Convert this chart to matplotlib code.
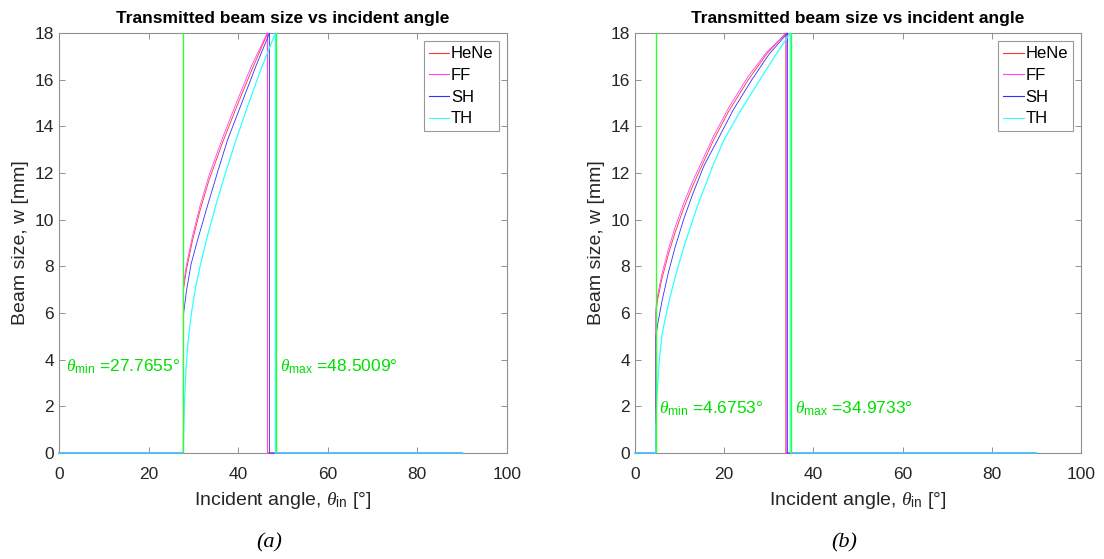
import numpy as np
import matplotlib
matplotlib.use('Agg')
import matplotlib.pyplot as plt

plt.rcParams['font.family'] = ['Liberation Sans', 'DejaVu Sans']
plt.rcParams['mathtext.fontset'] = 'custom'
plt.rcParams['mathtext.rm'] = 'Liberation Sans'
plt.rcParams['mathtext.it'] = 'Liberation Serif:italic'

# beam sizes [mm], incident angle in degrees
# (a)
a_theta = (27.7655, 48.5009)
a_hene_ang = [27.77, 28.5, 29.8, 31.5, 33.5, 36.7, 40.0, 43.0, 46.6]
a_hene_w = [7.0, 7.9, 9.1, 10.4, 11.7, 13.4, 15.0, 16.4, 18.0]
a_ff_ang = [27.77, 28.5, 29.8, 31.5, 33.5, 36.7, 40.0, 43.0, 46.5]
a_ff_w = [7.2, 8.1, 9.3, 10.6, 11.9, 13.6, 15.2, 16.6, 18.0]
a_sh_ang = [27.77, 28.5, 29.5, 30.9, 33.0, 35.5, 37.6, 41.0, 44.0, 47.0]
a_sh_w = [5.9, 7.0, 8.1, 9.1, 10.5, 12.1, 13.4, 15.1, 16.6, 18.0]
a_th_ang = [27.77, 27.85, 28.0, 28.35, 28.8, 29.5, 30.5, 31.5, 33.0, 35.0, 37.0, 39.5, 42.0, 45.0, 48.3]
a_th_w = [0.2, 1.0, 2.0, 3.6, 4.7, 5.9, 7.1, 8.0, 9.2, 10.6, 11.9, 13.4, 14.8, 16.4, 18.0]

# (b)
b_theta = (4.6753, 34.9733)
b_hene_ang = [4.675, 5.1, 6.0, 7.5, 9.0, 11.0, 13.0, 15.0, 17.6, 21.0, 25.4, 29.5, 33.8]
b_hene_w = [6.0, 6.6, 7.45, 8.53, 9.46, 10.54, 11.48, 12.32, 13.41, 14.65, 16.0, 17.1, 18.0]
b_ff_ang = [4.675, 5.1, 6.0, 7.5, 9.0, 11.0, 13.0, 15.0, 17.6, 21.0, 25.4, 29.5, 34.0]
b_ff_w = [6.2, 6.8, 7.65, 8.75, 9.68, 10.75, 11.68, 12.5, 13.58, 14.8, 16.15, 17.18, 18.0]
b_sh_ang = [4.675, 5.2, 6.1, 7.5, 9.0, 11.0, 13.0, 15.5, 18.5, 22.0, 26.2, 30.0, 34.2]
b_sh_w = [5.0, 5.65, 6.56, 7.75, 8.83, 10.07, 11.13, 12.33, 13.41, 14.7, 16.0, 17.08, 18.0]
b_th_ang = [4.675, 4.9, 5.45, 6.0, 6.7, 7.7, 9.0, 11.0, 13.9, 17.3, 19.8, 23.5, 28.0, 31.5, 34.8]
b_th_w = [1.1, 2.4, 4.0, 5.0, 5.7, 6.56, 7.54, 8.86, 10.54, 12.24, 13.37, 14.62, 16.0, 17.05, 18.0]

ang_end = 90
labels = ['HeNe', 'FF', 'SH', 'TH']
colors = ['#ff3030', '#ff40ff', '#3030ff', '#30ffff']
widths = [0.6, 0.6, 0.6, 0.9]
green = '#00e000'


def full_trace(ang, w):
    # zero outside the transmitted range, vertical jumps at both ends
    x = np.r_[0, ang[0], ang, ang[-1], ang_end]
    y = np.r_[0, 0, w, 0, 0]
    return x, y


def draw(ax, series, theta, txt_pos, caption):
    for i, ((ang, w), lab, c) in enumerate(zip(series, labels, colors)):
        x, y = full_trace(ang, w)
        ax.plot(x, y, color=c, lw=widths[i], label=lab, zorder=3 + i * 0.1,
                clip_on=False)
    for t in theta:
        ax.axvline(t, color='#30ff30', lw=1.0, zorder=5)
    (x1, y1, ha1), (x2, y2, ha2) = txt_pos
    ax.text(x1, y1, r'$\theta_{\mathrm{min}}$ =%.4f°' % theta[0], color=green,
            fontsize=12.5, ha=ha1, va='baseline')
    ax.text(x2, y2, r'$\theta_{\mathrm{max}}$ =%.4f°' % theta[1], color=green,
            fontsize=12.5, ha=ha2, va='baseline')

    ax.set_xlim(0, 100)
    ax.set_ylim(0, 18)
    ax.set_xticks(np.arange(0, 101, 20))
    ax.set_yticks(np.arange(0, 19, 2))
    ax.tick_params(direction='in', top=True, right=True, length=4, width=0.6,
                   color='#808080', labelsize=12.5, labelcolor='#262626')
    ax.tick_params(axis='x', pad=10)
    for s in ax.spines.values():
        s.set_color('#909090')
        s.set_linewidth(0.8)
    ax.set_title('Transmitted beam size vs incident angle', fontsize=12.5,
                 fontweight='bold', pad=7)
    ax.set_xlabel(r'Incident angle, $\theta_{\mathrm{in}}$ [°]', fontsize=14,
                  color='#262626', labelpad=6)
    ax.set_ylabel('Beam size, w [mm]', fontsize=14, color='#262626', labelpad=4)
    leg = ax.legend(loc='upper right', fontsize=12, frameon=True, fancybox=False,
                    handlelength=1.25, handletextpad=0.1, borderpad=0.3,
                    labelspacing=0.4, borderaxespad=0.5)
    leg.get_frame().set_edgecolor('#808080')
    leg.get_frame().set_linewidth(0.8)
    for h in leg.get_lines():
        h.set_linewidth(0.8)
    ax.text(0.47, -0.215, caption, transform=ax.transAxes, fontsize=16,
            family='Liberation Serif', style='italic', ha='center', va='center')


fig = plt.figure(figsize=(11.04, 5.59), dpi=100)
ax1 = fig.add_axes([0.0534, 0.1896, 0.4058, 0.7513])
ax2 = fig.add_axes([0.5752, 0.1896, 0.4040, 0.7513])

draw(ax1, [(a_hene_ang, a_hene_w), (a_ff_ang, a_ff_w), (a_sh_ang, a_sh_w), (a_th_ang, a_th_w)],
     a_theta, [(27.0, 3.5, 'right'), (49.3, 3.5, 'left')], '(a)')
draw(ax2, [(b_hene_ang, b_hene_w), (b_ff_ang, b_ff_w), (b_sh_ang, b_sh_w), (b_th_ang, b_th_w)],
     b_theta, [(5.4, 1.7, 'left'), (35.9, 1.7, 'left')], '(b)')

fig.savefig('out.png', dpi=100)
